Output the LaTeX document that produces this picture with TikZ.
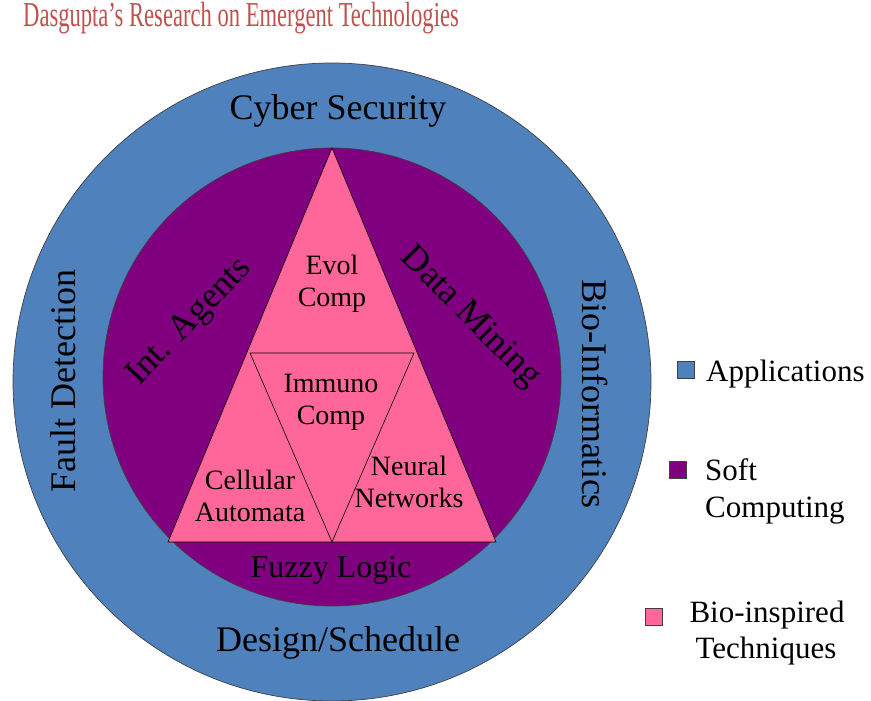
\documentclass[tikz,border=0pt]{standalone}
\usepackage{fontspec}
\setmainfont{Liberation Serif}
\definecolor{appblue}{HTML}{4F81BD}
\definecolor{softpurple}{HTML}{800080}
\definecolor{biopink}{HTML}{FF6699}
\definecolor{titlered}{HTML}{C0504D}
\begin{document}
\begin{tikzpicture}[x=1pt,y=-1pt,
  ring/.style={draw=black!75, line width=0.7pt},
  lbl/.style={inner sep=0pt, align=center, text=black},
  big/.style={font=\fontsize{36}{40}\selectfont},
  mid/.style={font=\fontsize{32}{36}\selectfont},
  small/.style={font=\fontsize{28}{32}\selectfont},
  leg/.style={font=\fontsize{31}{37}\selectfont, inner sep=0pt},
  legbox/.style={draw=black!75, line width=0.7pt}]
\useasboundingbox (0,0) rectangle (871,701);
% title
\node[inner sep=0pt, text=titlered, font=\fontsize{35}{40}\selectfont] (title) at (241,18)
  {\scalebox{0.645}[1]{Dasgupta’s Research on Emergent Technologies}};
% circles
\path[ring, fill=appblue] (332,382) circle[radius=319];
\path[ring, fill=softpurple] (332,377) circle[radius=229];
% triangles
\coordinate (apex) at (332,148);
\coordinate (bl) at (168,542);
\coordinate (br) at (496,542);
\coordinate (il) at (250,353);
\coordinate (ir) at (414,353);
\coordinate (ib) at (332,542);
\draw[fill=biopink, draw=black, line width=0.6pt, line join=miter] (apex) -- (bl) -- (br) -- cycle;
\draw[draw=black, line width=0.6pt] (il) -- (ir) -- (ib) -- cycle;
% application labels
\node[lbl, big] (cyber) at (338,111) {Cyber Security};
\node[lbl, big, rotate=90] (fault) at (63,381) {Fault Detection};
\node[lbl, big, rotate=-90] (bioinf) at (595,394) {Bio-Informatics};
\node[lbl, big] (design) at (338,643) {Design/Schedule};
% soft computing labels
\node[lbl, big, rotate=46] (agents) at (190,322) {Int. Agents};
\node[lbl, big, rotate=-45] (mining) at (470,318) {Data Mining};
\node[lbl, mid] (fuzzy) at (331,570) {Fuzzy Logic};
% bio-inspired labels
\node[lbl, small] (evol) at (332,284) {Evol\\Comp};
\node[lbl, small] (immuno) at (331,402) {Immuno\\Comp};
\node[lbl, small] (cell) at (250,496) {Cellular\\Automata};
\node[lbl, small] (neural) at (409,482) {Neural\\Networks};
% legend
\node[legbox, fill=appblue, minimum size=17pt, inner sep=0pt] (lb1) at (685.5,369.5) {};
\node[legbox, fill=softpurple, minimum size=17pt, inner sep=0pt] (lb2) at (677.5,469.5) {};
\node[legbox, fill=biopink, minimum size=17pt, inner sep=0pt] (lb3) at (653.5,616.5) {};
\node[leg, anchor=base west] (l1) at (706,381) {Applications};
\node[leg, anchor=base west] (l2a) at (705,480) {Soft};
\node[leg, anchor=base west] (l2b) at (705,517) {Computing};
\node[leg, anchor=base] (l3a) at (767,622) {Bio-inspired};
\node[leg, anchor=base] (l3b) at (766,658) {Techniques};
\end{tikzpicture}
\end{document}
